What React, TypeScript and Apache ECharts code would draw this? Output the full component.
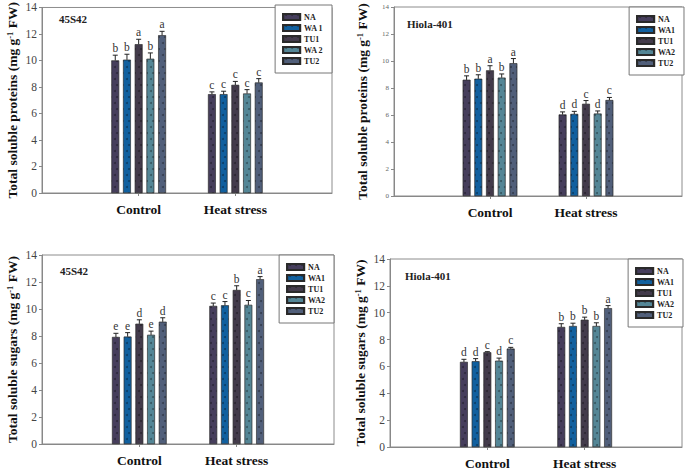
import React, { useEffect, useRef } from 'react';
import * as echarts from 'echarts';

const categories = ['', 'Control', 'Heat stress', ''];
const treatments = ['NA', 'WA1', 'TU1', 'WA2', 'TU2'];
const treatmentColors = ['#463e5c', '#11609f', '#433b4b', '#548696', '#515f7a'];
const yMin = 0;
const yMax = 14;
const yInterval = 2;

// Panel 1: proteins, 45S42
const p1Control = [10.0, 10.05, 11.22, 10.12, 11.9];
const p1ControlErr = [0.4, 0.42, 0.38, 0.45, 0.3];
const p1ControlLetters = ['b', 'b', 'a', 'b', 'a'];
const p1Heat = [7.45, 7.45, 8.15, 7.5, 8.33];
const p1HeatErr = [0.18, 0.23, 0.27, 0.3, 0.3];
const p1HeatLetters = ['c', 'c', 'c', 'c', 'c'];

// Panel 2: proteins, Hiola-401
const p2Control = [8.6, 8.68, 9.3, 8.76, 9.83];
const p2ControlErr = [0.3, 0.3, 0.35, 0.28, 0.35];
const p2ControlLetters = ['b', 'b', 'a', 'b', 'a'];
const p2Heat = [6.03, 6.07, 6.82, 6.1, 7.1];
const p2HeatErr = [0.2, 0.2, 0.25, 0.2, 0.2];
const p2HeatLetters = ['d', 'd', 'c', 'd', 'c'];

// Panel 3: sugars, 45S42
const p3Control = [7.92, 7.95, 8.9, 8.08, 9.05];
const p3ControlErr = [0.28, 0.3, 0.3, 0.28, 0.3];
const p3ControlLetters = ['e', 'e', 'd', 'e', 'd'];
const p3Heat = [10.22, 10.27, 11.4, 10.3, 12.2];
const p3HeatErr = [0.22, 0.28, 0.32, 0.33, 0.2];
const p3HeatLetters = ['c', 'c', 'b', 'c', 'a'];

// Panel 4: sugars, Hiola-401
const p4Control = [6.33, 6.38, 7.05, 6.42, 7.32];
const p4ControlErr = [0.2, 0.2, 0.05, 0.2, 0.1];
const p4ControlLetters = ['d', 'd', 'c', 'd', 'c'];
const p4Heat = [8.93, 9.0, 9.47, 9.0, 10.33];
const p4HeatErr = [0.25, 0.22, 0.2, 0.25, 0.2];
const p4HeatLetters = ['b', 'b', 'b', 'b', 'a'];

const panelTitles = ['45S42', 'Hiola-401', '45S42', 'Hiola-401'];
const proteinLabel = 'Total soluble proteins (mg g';
const sugarLabel = 'Total soluble sugars (mg g';

const panels = [
  { title: panelTitles[0], yLabel: proteinLabel, control: p1Control, controlErr: p1ControlErr, controlLetters: p1ControlLetters, heat: p1Heat, heatErr: p1HeatErr, heatLetters: p1HeatLetters },
  { title: panelTitles[1], yLabel: proteinLabel, control: p2Control, controlErr: p2ControlErr, controlLetters: p2ControlLetters, heat: p2Heat, heatErr: p2HeatErr, heatLetters: p2HeatLetters },
  { title: panelTitles[2], yLabel: sugarLabel, control: p3Control, controlErr: p3ControlErr, controlLetters: p3ControlLetters, heat: p3Heat, heatErr: p3HeatErr, heatLetters: p3HeatLetters },
  { title: panelTitles[3], yLabel: sugarLabel, control: p4Control, controlErr: p4ControlErr, controlLetters: p4ControlLetters, heat: p4Heat, heatErr: p4HeatErr, heatLetters: p4HeatLetters },
];

// layout (positions/styles)
const layouts = [
  { left: 42, top: 5, width: 290, height: 188, tickFont: 11.5, tickColor: '#444', nameGap: 23, titleLeft: 59, titleTop: 13 },
  { left: 394, top: 7, width: 290, height: 189, tickFont: 7, tickColor: '#666', nameGap: 25, titleLeft: 407, titleTop: 18 },
  { left: 42, top: 255, width: 292, height: 189, tickFont: 11.5, tickColor: '#444', nameGap: 23, titleLeft: 60, titleTop: 265 },
  { left: 390, top: 259, width: 293, height: 189, tickFont: 11.5, tickColor: '#444', nameGap: 23, titleLeft: 405, titleTop: 270 },
];

const BAR_W = 7.6;
const BAR_GAP = 0.54;
const SERIF = "'Liberation Serif', 'Times New Roman', serif";

export default function App() {
  const ref = useRef<HTMLDivElement>(null);
  useEffect(() => {
    if (!ref.current) return;
    const chart = echarts.init(ref.current, null, { renderer: 'svg' });
    const grids: any[] = [];
    const xAxes: any[] = [];
    const yAxes: any[] = [];
    const series: any[] = [];
    const legends: any[] = [];
    const titles: any[] = [];

    panels.forEach((p, pi) => {
      const L = layouts[pi];
      grids.push({ left: L.left, top: L.top, width: L.width, height: L.height, show: true, borderColor: '#8c8c8c', borderWidth: 1, backgroundColor: 'transparent' });
      xAxes.push({
        type: 'category', gridIndex: pi, data: categories, boundaryGap: false,
        axisLine: { lineStyle: { color: '#888', width: 1 } },
        axisTick: { show: true, interval: (i: number) => i === 1 || i === 2, length: 3, lineStyle: { color: '#888' } },
        axisLabel: { interval: 0, fontFamily: SERIF, fontWeight: 'bold', fontSize: 13.5, color: '#111', margin: 9 },
        splitLine: { show: false },
      });
      yAxes.push({
        type: 'value', gridIndex: pi, min: yMin, max: yMax, interval: yInterval,
        axisLine: { show: true, lineStyle: { color: '#888', width: 1 } },
        axisTick: { show: true, length: 3, lineStyle: { color: '#888' } },
        axisLabel: { fontFamily: SERIF, fontSize: L.tickFont, color: L.tickColor, margin: 5 },
        splitLine: { show: false },
        name: `{t|${p.yLabel}}{s|-1}{t| FW)}`,
        nameLocation: 'middle', nameRotate: 90, nameGap: L.nameGap,
        nameTextStyle: {
          rich: {
            t: { fontFamily: SERIF, fontWeight: 'bold', fontSize: 13.5, color: '#111' },
            s: { fontFamily: SERIF, fontWeight: 'bold', fontSize: 8.5, color: '#111', verticalAlign: 'top' },
          },
        },
      });
      titles.push({ text: p.title, left: L.titleLeft, top: L.titleTop, padding: 0, textStyle: { fontFamily: SERIF, fontWeight: 'bold', fontSize: 11, color: '#222' } });
      legends.push({
        data: treatments, orient: 'vertical', right: 685 - (L.left + L.width), top: L.top,
        backgroundColor: '#fff', borderColor: '#777', borderWidth: 1, padding: [8, 9, 8, 7],
        itemWidth: 17, itemHeight: 6, itemGap: 3, icon: 'rect', selectedMode: false,
        formatter: pi === 0 ? (n: string) => n.replace(/(WA)(\d)/, '$1 $2') : undefined,
        textStyle: { fontFamily: SERIF, fontWeight: 'bold', fontSize: 8, color: '#222', padding: [0, 0, 0, -1] },
      });
      treatments.forEach((t, ti) => {
        series.push({
          type: 'bar', name: t, xAxisIndex: pi, yAxisIndex: pi,
          data: [null, p.control[ti], p.heat[ti], null],
          barWidth: BAR_W, barGap: `${BAR_GAP * 100}%`,
          itemStyle: {
            color: treatmentColors[ti], borderColor: '#2a2a2a', borderWidth: 0.4,
            decal: { symbol: 'circle', symbolSize: 1, color: 'rgba(0,0,0,0.35)', dashArrayX: [[1.2, 3.2], [0, 1.7, 1.2, 1.5]], dashArrayY: [1.2, 4], rotation: 0 },
          },
          emphasis: { disabled: true },
        });
      });
      const errData: number[][] = [];
      const letters: string[] = [];
      treatments.forEach((_, ti) => {
        errData.push([1, p.control[ti], ti, p.controlErr[ti]]);
        letters.push(p.controlLetters[ti]);
        errData.push([2, p.heat[ti], ti, p.heatErr[ti]]);
        letters.push(p.heatLetters[ti]);
      });
      series.push({
        type: 'custom', xAxisIndex: pi, yAxisIndex: pi, data: errData, encode: { x: 0, y: 1 }, z: 5,
        renderItem: (params: any, api: any) => {
          const cat = api.value(0);
          const val = api.value(1);
          const ti = api.value(2);
          const err = api.value(3);
          const base = api.coord([cat, val]);
          const top = api.coord([cat, val + err]);
          const x = base[0] + (ti - 2) * BAR_W * (1 + BAR_GAP);
          return {
            type: 'group',
            children: [
              { type: 'line', shape: { x1: x, y1: base[1], x2: x, y2: top[1] }, style: { stroke: '#222', lineWidth: 1 } },
              { type: 'line', shape: { x1: x - 2.5, y1: top[1], x2: x + 2.5, y2: top[1] }, style: { stroke: '#222', lineWidth: 1 } },
              { type: 'text', style: { x, y: top[1] - 1, text: letters[params.dataIndex], textAlign: 'center', textVerticalAlign: 'bottom', fontFamily: SERIF, fontSize: 11.5, fill: '#333' } },
            ],
          };
        },
      });
    });

    chart.setOption({
      animation: false,
      backgroundColor: '#fff',
      title: titles,
      grid: grids,
      xAxis: xAxes,
      yAxis: yAxes,
      legend: legends,
      series,
    });
    return () => chart.dispose();
  }, []);
  return <div ref={ref} style={{ position: 'absolute', left: 0, top: 0, width: 685, height: 470 }} />;
}
